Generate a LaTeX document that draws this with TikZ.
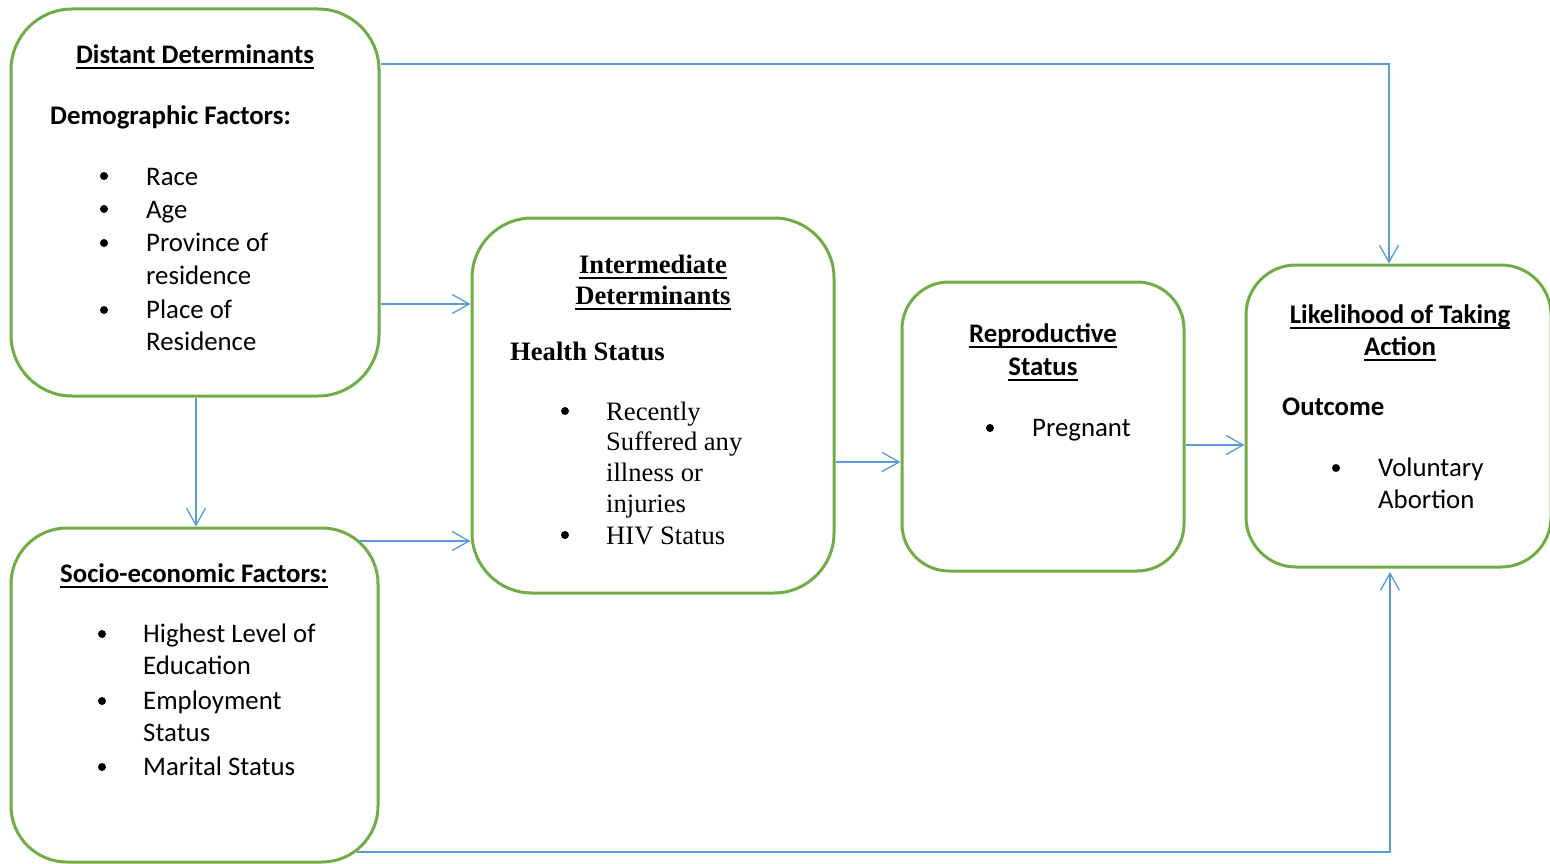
\documentclass[tikz,border=0pt]{standalone}
\usepackage{fontspec}
\setmainfont{Carlito}
\newfontfamily\tnr{Liberation Serif}
\usetikzlibrary{arrows.meta}
\definecolor{boxgreen}{HTML}{70AD47}
\definecolor{arrblue}{HTML}{5B9BD5}
\newcommand{\myul}[1]{\setbox0\hbox{#1}\rlap{\rule[-5.5pt]{\wd0}{2pt}}\box0}
\begin{document}
\begin{tikzpicture}[x=1pt,y=-1pt,
  box/.style={draw=boxgreen, line width=3pt, rectangle, rounded corners=#1, inner sep=0pt},
  txt/.style={inner sep=0pt, font=\fontsize{26.8}{32}\selectfont},
  serif/.style={inner sep=0pt, font=\fontsize{26.6}{30}\selectfont\tnr},
  dot/.style={circle, fill=black, inner sep=0pt, minimum size=8pt},
  arr/.style={draw=arrblue, line width=1.3pt, -{Straight Barb[length=17pt,width=19pt,line width=1.3pt]}}]
\useasboundingbox (0,0) rectangle (1550,864);
% boxes
\node[box=61pt, minimum width=368pt, minimum height=387pt] (dist) at (195,202.5) {};
\node[box=56pt, minimum width=367pt, minimum height=334pt] (socio) at (194.5,695) {};
\node[box=60pt, minimum width=362pt, minimum height=375pt] (inter) at (653,405.5) {};
\node[box=47pt, minimum width=282pt, minimum height=289pt] (repro) at (1043,426.5) {};
\node[box=50pt, minimum width=305pt, minimum height=302pt] (like) at (1398.5,416) {};
% distant determinants
\node[txt, anchor=base] (dh) at (195,64) {\bfseries\myul{Distant Determinants}};
\node[txt, anchor=base west] (dd) at (50,124.5) {\bfseries Demographic Factors:};
\node[dot] (db1) at (104,176) {};
\node[dot] (db2) at (104,209) {};
\node[dot] (db3) at (104,243) {};
\node[dot] (db4) at (104,310) {};
\node[txt, anchor=base west] (dt1) at (146,185) {Race};
\node[txt, anchor=base west] (dt2) at (146,218) {Age};
\node[txt, anchor=base west] (dt3) at (146,251.5) {Province of};
\node[txt, anchor=base west] (dt4) at (146,284.5) {residence};
\node[txt, anchor=base west] (dt5) at (146,318.5) {Place of};
\node[txt, anchor=base west] (dt6) at (146,350.5) {Residence};
% socio-economic
\node[txt, anchor=base] (sh) at (194,582.5) {\bfseries\myul{Socio-economic Factors:}};
\node[dot] (sb1) at (102,634) {};
\node[dot] (sb2) at (102,701) {};
\node[dot] (sb3) at (102,767) {};
\node[txt, anchor=base west] (st1) at (143,642.5) {Highest Level of};
\node[txt, anchor=base west] (st2) at (143,674.5) {Education};
\node[txt, anchor=base west] (st3) at (143,709.5) {Employment};
\node[txt, anchor=base west] (st4) at (143,741.5) {Status};
\node[txt, anchor=base west] (st5) at (143,775.5) {Marital Status};
% intermediate
\node[serif, anchor=base] (ih1) at (653,273) {\bfseries\myul{Intermediate}};
\node[serif, anchor=base] (ih2) at (653,304) {\bfseries\myul{Determinants}};
\node[serif, anchor=base west] (is) at (510,360) {\bfseries Health Status};
\node[dot] (ib1) at (565,411) {};
\node[dot] (ib2) at (565,535) {};
\node[serif, anchor=base west] (it1) at (606,420) {Recently};
\node[serif, anchor=base west] (it2) at (606,450) {Suffered any};
\node[serif, anchor=base west] (it3) at (606,481) {illness or};
\node[serif, anchor=base west] (it4) at (606,512) {injuries};
\node[serif, anchor=base west] (it5) at (606,544) {HIV Status};
% reproductive
\node[txt, anchor=base] (rh1) at (1043,342.5) {\bfseries\myul{Reproductive}};
\node[txt, anchor=base] (rh2) at (1043,375.5) {\bfseries\myul{Status}};
\node[dot] (rb1) at (990,428) {};
\node[txt, anchor=base west] (rt1) at (1032,436.5) {Pregnant};
% likelihood
\node[txt, anchor=base] (lh1) at (1400,323.5) {\bfseries\myul{Likelihood of Taking}};
\node[txt, anchor=base] (lh2) at (1400,355.5) {\bfseries\myul{Action}};
\node[txt, anchor=base west] (lo) at (1282,415.5) {\bfseries Outcome};
\node[dot] (lb1) at (1336,468) {};
\node[txt, anchor=base west] (lt1) at (1378,476.5) {Voluntary};
\node[txt, anchor=base west] (lt2) at (1378,508.5) {Abortion};
% connectors
\coordinate (a1) at ([yshift=-56.5pt]dist.north east);
\draw[arr] (a1) -| ([xshift=-9.5pt]like.north);
\coordinate (a2) at ([yshift=-296.5pt]dist.north east);
\draw[arr] (a2) -- (a2 -| inter.west);
\coordinate (a3) at ([xshift=1pt]dist.south);
\draw[arr] (a3) -- (a3 |- socio.north);
\coordinate (a4) at ([xshift=-21.5pt,yshift=-14.5pt]socio.north east);
\draw[arr] (a4) -- (a4 -| inter.west);
\coordinate (a5) at ([yshift=-56.5pt]inter.east);
\draw[arr] (a5) -- (a5 -| repro.west);
\coordinate (a6) at ([yshift=-18.5pt]repro.east);
\draw[arr] (a6) -- (a6 -| like.west);
\coordinate (a7) at ([xshift=-22.5pt,yshift=11.5pt]socio.south east);
\draw[arr] (a7) -| ([xshift=-8.5pt,yshift=-3.5pt]like.south);
\end{tikzpicture}
\end{document}
